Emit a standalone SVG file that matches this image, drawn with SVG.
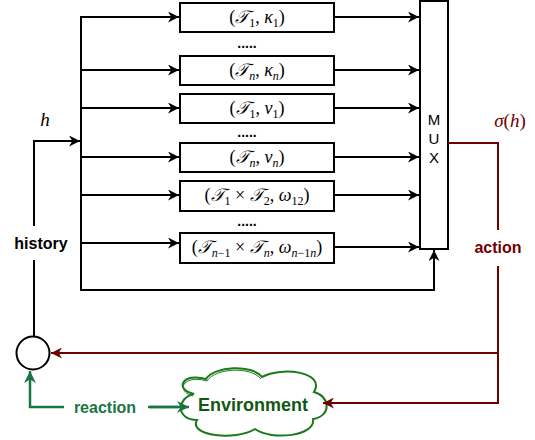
<svg xmlns="http://www.w3.org/2000/svg" width="535" height="440" viewBox="0 0 535 440">
<style>
.box{fill:#fff;stroke:#000;stroke-width:2}
.ln{fill:none;stroke:#000;stroke-width:2}
.rd{fill:none;stroke:#6f0000;stroke-width:2}
.gr{fill:none;stroke:#1b7543;stroke-width:2.5}
.m{font-family:"Liberation Serif","DejaVu Serif",serif;font-size:18px;text-anchor:middle;fill:#000}
.i{font-style:italic}
.s{font-size:12px}
.dots{font-family:"Liberation Sans",sans-serif;font-size:14px;font-weight:bold;text-anchor:middle}
.lbl{font-family:"Liberation Sans",Arial,sans-serif;font-size:16px;font-weight:bold;text-anchor:middle}
</style>
<defs>
<marker id="ab" viewBox="0 0 10 10" refX="10" refY="5" markerWidth="11" markerHeight="11" markerUnits="userSpaceOnUse" orient="auto"><path d="M0,0 L10,5 L0,10 L3,5 z" fill="#000"/></marker>
<marker id="ar" viewBox="0 0 10 10" refX="10" refY="5" markerWidth="11" markerHeight="11" markerUnits="userSpaceOnUse" orient="auto"><path d="M0,0 L10,5 L0,10 L3,5 z" fill="#6f0000"/></marker>
<marker id="ag" viewBox="0 0 10 10" refX="10" refY="5" markerWidth="12" markerHeight="12" markerUnits="userSpaceOnUse" orient="auto"><path d="M0,0 L10,5 L0,10 L3,5 z" fill="#1b7543"/></marker>
</defs>
<g id="n1"><rect class="box" x="180" y="3" width="154" height="29"/><text class="m" x="257" y="23">(<tspan class="i">𝒯</tspan><tspan class="s" dy="4">1</tspan><tspan dy="-4">, </tspan><tspan class="i">κ</tspan><tspan class="s" dy="4">1</tspan><tspan dy="-4">)</tspan></text></g>
<g id="d1"><text class="dots" x="247" y="48">.....</text></g>
<g id="n2"><rect class="box" x="180" y="56" width="154" height="29"/><text class="m" x="257" y="76">(<tspan class="i">𝒯</tspan><tspan class="s i" dy="4">n</tspan><tspan dy="-4">, </tspan><tspan class="i">κ</tspan><tspan class="s i" dy="4">n</tspan><tspan dy="-4">)</tspan></text></g>
<g id="n3"><rect class="box" x="180" y="94" width="154" height="29"/><text class="m" x="257" y="114">(<tspan class="i">𝒯</tspan><tspan class="s" dy="4">1</tspan><tspan dy="-4">, </tspan><tspan class="i">ν</tspan><tspan class="s" dy="4">1</tspan><tspan dy="-4">)</tspan></text></g>
<g id="d2"><text class="dots" x="247" y="137">.....</text></g>
<g id="n4"><rect class="box" x="180" y="143" width="154" height="29"/><text class="m" x="257" y="163">(<tspan class="i">𝒯</tspan><tspan class="s i" dy="4">n</tspan><tspan dy="-4">, </tspan><tspan class="i">ν</tspan><tspan class="s i" dy="4">n</tspan><tspan dy="-4">)</tspan></text></g>
<g id="n5"><rect class="box" x="180" y="181" width="154" height="30"/><text class="m" x="257" y="201">(<tspan class="i">𝒯</tspan><tspan class="s" dy="4">1</tspan><tspan dy="-4"> × </tspan><tspan class="i">𝒯</tspan><tspan class="s" dy="4">2</tspan><tspan dy="-4">, </tspan><tspan class="i">ω</tspan><tspan class="s" dy="4">12</tspan><tspan dy="-4">)</tspan></text></g>
<g id="d3"><text class="dots" x="247" y="226">.....</text></g>
<g id="n6"><rect class="box" x="180" y="233" width="154" height="30"/><text class="m" x="257" y="253">(<tspan class="i">𝒯</tspan><tspan class="s" dy="4"><tspan class="i">n</tspan>−1</tspan><tspan dy="-4"> × </tspan><tspan class="i">𝒯</tspan><tspan class="s i" dy="4">n</tspan><tspan dy="-4">, </tspan><tspan class="i">ω</tspan><tspan class="s" dy="4"><tspan class="i">n</tspan>−1<tspan class="i">n</tspan></tspan><tspan dy="-4">)</tspan></text></g>
<g id="mux"><rect class="box" x="420" y="1" width="28" height="248"/><text x="434" y="125" font-family="Liberation Sans,sans-serif" font-size="15" text-anchor="middle">M</text><text x="434" y="144" font-family="Liberation Sans,sans-serif" font-size="15" text-anchor="middle">U</text><text x="434" y="163" font-family="Liberation Sans,sans-serif" font-size="15" text-anchor="middle">X</text></g>
<g id="circle"><circle cx="33" cy="353" r="16.5" fill="#fff" stroke="#000" stroke-width="2"/></g>
<g id="env">
<path d="M194 394 C174 390 182 372 206 379 C214 366 252 364 262 377 C282 366 326 372 314 392 C330 396 332 416 313 419 C316 436 272 441 255 429 C236 441 188 436 197 420 C176 420 176 398 194 394 Z" fill="#fff" stroke="#1a7a1a" stroke-width="2"/>
<path d="M193 396 C175 391 183 374 207 381 C215 368 251 366 261 379" fill="none" stroke="#1a7a1a" stroke-width="1"/>
<text class="lbl" x="253" y="411" style="font-size:18px" fill="#125812">Environment</text>
</g>
<g id="connectors">
<path class="ln" d="M81 16 V290 H434 V250" marker-end="url(#ab)"/>
<path class="ln" d="M81 17 H179" marker-end="url(#ab)"/>
<path class="ln" d="M81 70 H179" marker-end="url(#ab)"/>
<path class="ln" d="M81 108 H179" marker-end="url(#ab)"/>
<path class="ln" d="M81 157 H179" marker-end="url(#ab)"/>
<path class="ln" d="M81 195 H179" marker-end="url(#ab)"/>
<path class="ln" d="M81 243 H179" marker-end="url(#ab)"/>
<path class="ln" d="M334 17 H419" marker-end="url(#ab)"/>
<path class="ln" d="M334 70 H419" marker-end="url(#ab)"/>
<path class="ln" d="M334 108 H419" marker-end="url(#ab)"/>
<path class="ln" d="M334 157 H419" marker-end="url(#ab)"/>
<path class="ln" d="M334 195 H419" marker-end="url(#ab)"/>
<path class="ln" d="M334 247 H419" marker-end="url(#ab)"/>
<path class="ln" d="M34 336 V141 H80" marker-end="url(#ab)"/>
<path class="rd" d="M448 143 H498 V403 H323" marker-end="url(#ar)"/>
<path class="rd" d="M498 353 H51" marker-end="url(#ar)"/>
<path class="gr" d="M178 407 H30 V371" marker-end="url(#ag)"/>
<path class="gr" d="M150 407 H189" marker-end="url(#ag)"/>
<rect x="10" y="226" width="62" height="34" fill="#fff"/>
<text class="lbl" x="41" y="249">history</text>
<rect x="470" y="230" width="56" height="36" fill="#fff"/>
<text class="lbl" x="498" y="253" style="fill:#6f0000">action</text>
<rect x="64" y="394" width="84" height="24" fill="#fff"/>
<text class="lbl" x="105" y="413" style="fill:#1b7543">reaction</text>
<text class="m i" x="45" y="126" style="font-size:19px">h</text>
<text class="m" x="510" y="127" style="font-size:19px;fill:#6f0000"><tspan class="i">σ</tspan>(<tspan class="i">h</tspan>)</text>
</g>
</svg>
